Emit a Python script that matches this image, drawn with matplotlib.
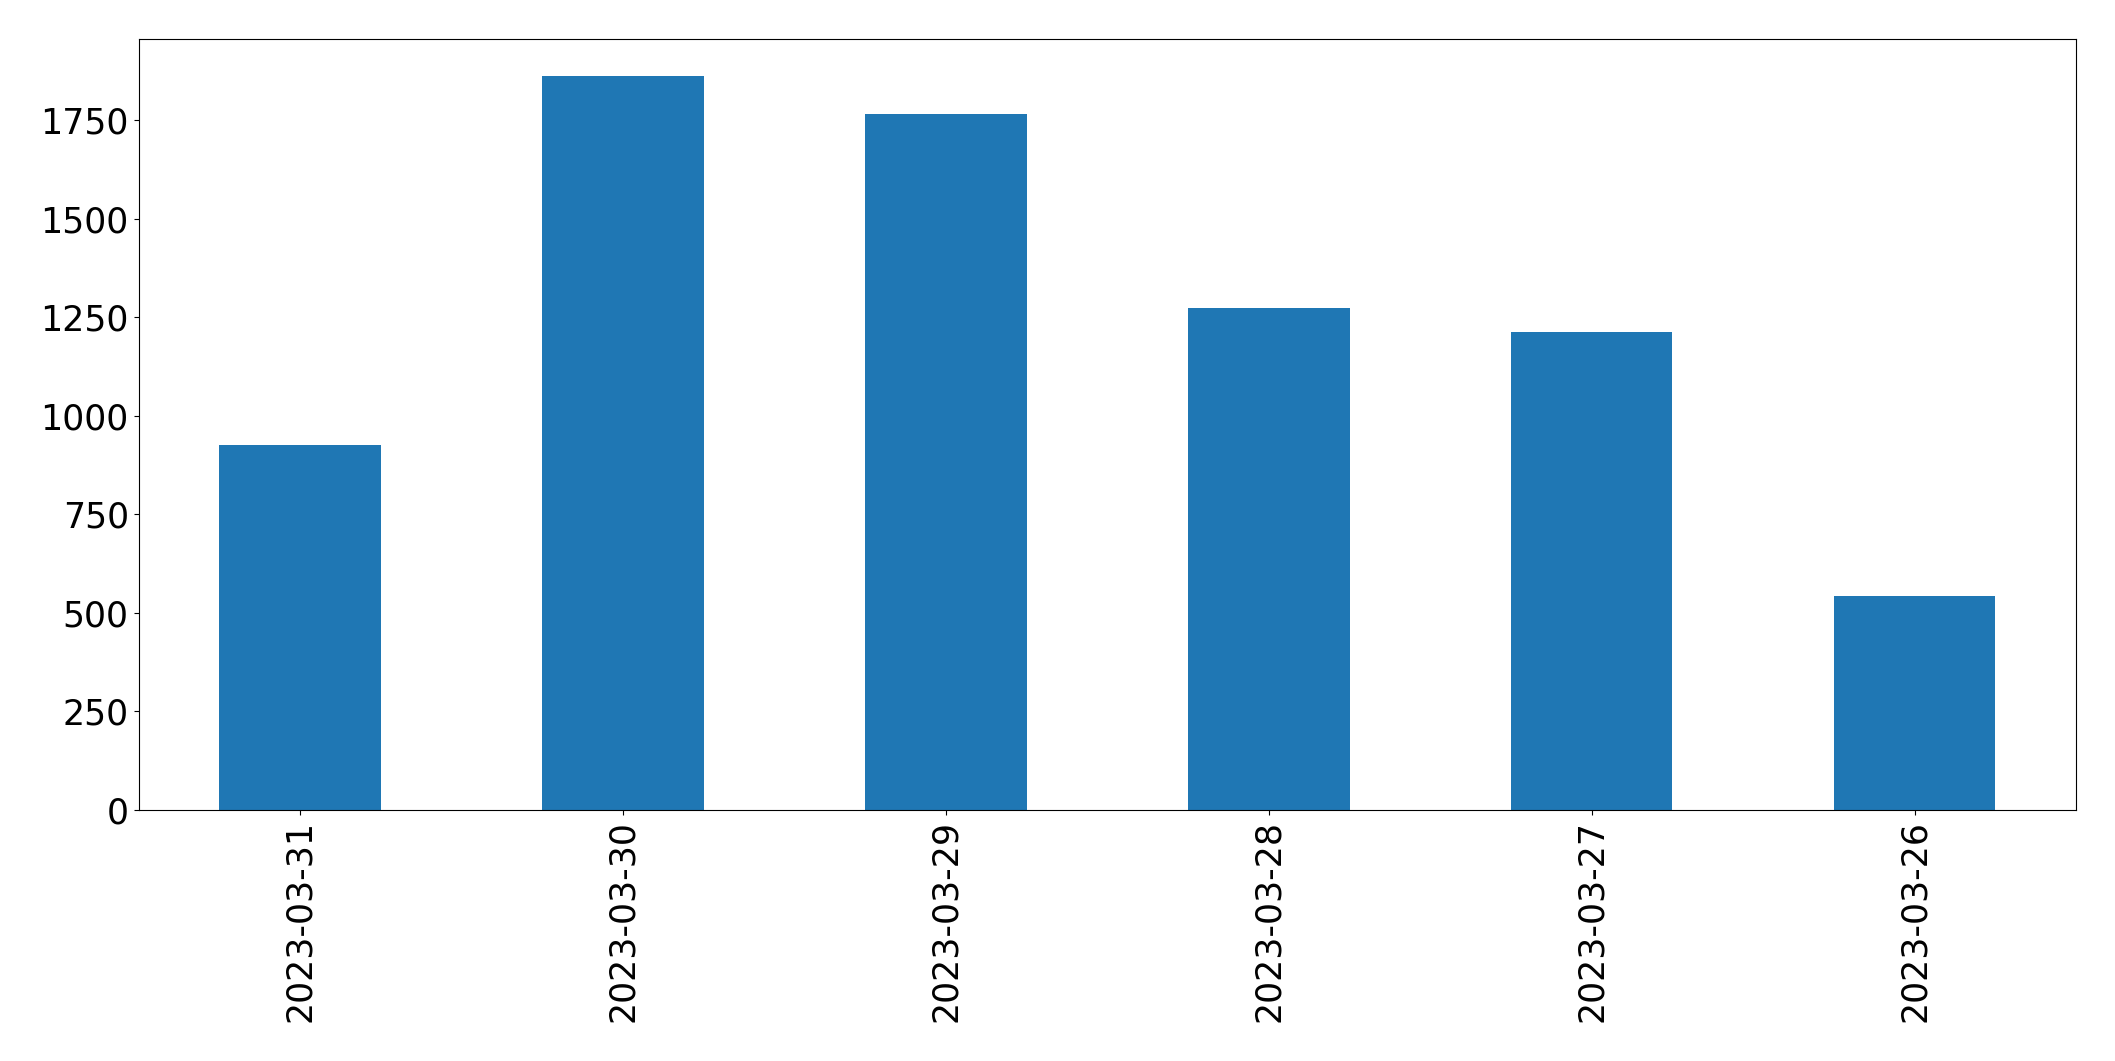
import matplotlib
matplotlib.use("Agg")
import matplotlib.pyplot as plt

dates = ["2023-03-31", "2023-03-30", "2023-03-29", "2023-03-28", "2023-03-27", "2023-03-26"]
values = [926, 1863, 1767, 1274, 1213, 543]

fig = plt.figure(figsize=(21.15, 10.61), dpi=100)
left, right = 0.0655, 0.9816
ax = fig.add_axes([left, 0.2366, right - left, 0.7266])
x = range(len(dates))
ax.bar(x, values, width=0.5, color="#1f77b4")
ax.set_xlim(-0.5, len(dates) - 0.5)
ax.set_xticks(list(x))
ax.set_xticklabels(dates, rotation=90, fontsize=25)
ax.tick_params(axis="y", labelsize=25)
ax.set_ylim(0, max(values) * 1.05)
fig.savefig("out.png", dpi=100)
